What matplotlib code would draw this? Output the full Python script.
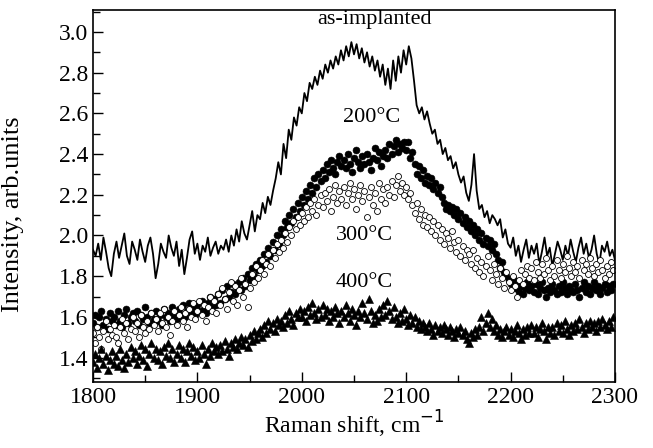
import numpy as np
import matplotlib.pyplot as plt
from matplotlib.ticker import MultipleLocator

plt.rcParams['font.family'] = ['Liberation Serif', 'DejaVu Serif']

# Raman shift grids
x_line = np.arange(1800, 2300.1, 2.5)
x_pts = np.arange(1800, 2299, 2)

# as-implanted (solid line)
as_impl = [1.93, 1.90, 1.96, 1.88, 1.99, 1.92, 1.84, 1.80, 1.91, 1.97,
           1.89, 1.95, 2.01, 1.90, 1.86, 1.97, 1.93, 1.88, 1.98, 1.92,
           1.87, 1.95, 1.99, 1.91, 1.79, 1.86, 1.96, 1.92, 1.89, 2.00,
           1.94, 1.90, 1.97, 1.85, 1.93, 1.81, 1.89, 1.98, 2.02, 1.91,
           1.96, 1.88, 1.95, 1.92, 1.99, 1.90, 1.94, 1.97, 1.91, 1.95,
           1.93, 1.98, 1.92, 2.00, 1.95, 2.03, 1.97, 2.07, 2.01, 1.98,
           2.05, 2.12, 2.02, 2.10, 2.08, 2.16, 2.11, 2.19, 2.15, 2.22,
           2.28, 2.36, 2.30, 2.45, 2.38, 2.52, 2.47, 2.58, 2.54, 2.63,
           2.60, 2.70, 2.66, 2.75, 2.72, 2.78, 2.74, 2.81, 2.77, 2.84,
           2.80, 2.86, 2.82, 2.88, 2.84, 2.91, 2.86, 2.93, 2.88, 2.95,
           2.89, 2.94, 2.87, 2.92, 2.85, 2.90, 2.83, 2.88, 2.81, 2.86,
           2.78, 2.84, 2.74, 2.82, 2.72, 2.86, 2.76, 2.88, 2.80, 2.91,
           2.84, 2.93, 2.87, 2.76, 2.64, 2.60, 2.63, 2.57, 2.61, 2.55,
           2.50, 2.52, 2.45, 2.47, 2.40, 2.43, 2.37, 2.39, 2.33, 2.36,
           2.30, 2.26, 2.29, 2.21, 2.17, 2.25, 2.40, 2.22, 2.13, 2.15,
           2.09, 2.12, 2.06, 2.10, 2.08, 2.05, 2.08, 1.99, 2.03, 1.96,
           1.94, 1.99, 1.90, 1.95, 1.87, 1.93, 1.98, 1.89, 1.95, 1.91,
           1.96, 1.86, 1.92, 1.99, 1.90, 1.94, 1.85, 1.91, 1.97, 1.93,
           1.88, 1.95, 1.90, 1.98, 1.92, 1.87, 1.94, 1.99, 1.91, 1.96,
           1.89, 1.93, 2.00, 1.91, 1.86, 1.95, 1.92, 1.97, 1.90, 1.93,
           1.88]

# 200 C (filled circles)
t200 = [1.57, 1.61, 1.55, 1.60, 1.63, 1.56, 1.59, 1.54, 1.62, 1.58,
        1.60, 1.56, 1.63, 1.58, 1.55, 1.61, 1.64, 1.57, 1.60, 1.62,
        1.58, 1.63, 1.56, 1.61, 1.59, 1.65, 1.60, 1.57, 1.62, 1.59,
        1.63, 1.58, 1.61, 1.56, 1.64, 1.60, 1.62, 1.58, 1.65, 1.61,
        1.59, 1.64, 1.61, 1.66, 1.60, 1.63, 1.67, 1.62, 1.65, 1.61,
        1.66, 1.63, 1.68, 1.64, 1.62, 1.67, 1.70, 1.65, 1.69, 1.66,
        1.71, 1.67, 1.73, 1.69, 1.75, 1.70, 1.72, 1.76, 1.71, 1.74,
        1.77, 1.73, 1.79, 1.75, 1.81, 1.78, 1.84, 1.80, 1.86, 1.83,
        1.88, 1.85, 1.91, 1.87, 1.94, 1.90, 1.97, 1.93, 2.00, 1.96,
        2.03, 2.00, 2.07, 2.04, 2.10, 2.06, 2.13, 2.09, 2.16, 2.12,
        2.19, 2.15, 2.22, 2.18, 2.25, 2.21, 2.28, 2.24, 2.30, 2.27,
        2.32, 2.28, 2.35, 2.31, 2.37, 2.33, 2.30, 2.36, 2.39, 2.34,
        2.37, 2.33, 2.40, 2.35, 2.31, 2.38, 2.42, 2.36, 2.33, 2.39,
        2.35, 2.40, 2.36, 2.32, 2.38, 2.43, 2.37, 2.41, 2.34, 2.39,
        2.42, 2.38, 2.45, 2.40, 2.44, 2.47, 2.41, 2.45, 2.43, 2.46,
        2.42, 2.46, 2.38, 2.41, 2.35, 2.30, 2.34, 2.28, 2.32, 2.26,
        2.29, 2.25, 2.28, 2.23, 2.26, 2.21, 2.24, 2.19, 2.16, 2.13,
        2.15, 2.12, 2.14, 2.10, 2.13, 2.08, 2.11, 2.06, 2.09, 2.04,
        2.07, 2.02, 2.05, 2.00, 2.03, 1.98, 2.01, 1.96, 1.99, 1.95,
        1.98, 1.93, 1.96, 1.91, 1.88, 1.84, 1.87, 1.82, 1.80, 1.78,
        1.76, 1.79, 1.74, 1.77, 1.72, 1.75, 1.71, 1.74, 1.77, 1.73,
        1.75, 1.72, 1.76, 1.71, 1.74, 1.77, 1.73, 1.70, 1.74, 1.72,
        1.76, 1.73, 1.71, 1.75, 1.72, 1.77, 1.74, 1.71, 1.75, 1.73,
        1.72, 1.76, 1.73, 1.70, 1.74, 1.77, 1.72, 1.75, 1.71, 1.74,
        1.77, 1.73, 1.75, 1.71, 1.74, 1.76, 1.72, 1.75, 1.73, 1.76]

# 300 C (open circles)
t300 = [1.52, 1.47, 1.55, 1.50, 1.44, 1.53, 1.58, 1.49, 1.54, 1.51,
        1.56, 1.50, 1.47, 1.55, 1.59, 1.52, 1.57, 1.49, 1.54, 1.60,
        1.53, 1.57, 1.50, 1.61, 1.55, 1.52, 1.58, 1.54, 1.62, 1.56,
        1.59, 1.53, 1.62, 1.57, 1.64, 1.55, 1.60, 1.51, 1.58, 1.63,
        1.56, 1.61, 1.65, 1.58, 1.62, 1.55, 1.64, 1.60, 1.67, 1.59,
        1.63, 1.68, 1.61, 1.66, 1.58, 1.65, 1.70, 1.63, 1.68, 1.62,
        1.71, 1.66, 1.74, 1.69, 1.64, 1.72, 1.77, 1.68, 1.75, 1.66,
        1.73, 1.79, 1.70, 1.76, 1.65, 1.74, 1.81, 1.77, 1.85, 1.79,
        1.83, 1.88, 1.81, 1.86, 1.91, 1.85, 1.93, 1.89, 1.96, 1.92,
        1.98, 1.94, 2.01, 1.97, 2.04, 2.00, 2.07, 2.03, 2.09, 2.05,
        2.11, 2.07, 2.14, 2.09, 2.16, 2.12, 2.18, 2.10, 2.15, 2.20,
        2.14, 2.21, 2.17, 2.23, 2.12, 2.19, 2.25, 2.16, 2.22, 2.18,
        2.24, 2.15, 2.21, 2.26, 2.18, 2.23, 2.13, 2.20, 2.25, 2.17,
        2.22, 2.09, 2.19, 2.24, 2.15, 2.21, 2.12, 2.26, 2.18, 2.23,
        2.16, 2.24, 2.20, 2.27, 2.19, 2.25, 2.29, 2.22, 2.26, 2.20,
        2.24, 2.18, 2.21, 2.15, 2.11, 2.16, 2.08, 2.13, 2.05, 2.10,
        2.04, 2.09, 2.02, 2.07, 2.00, 2.05, 1.98, 2.03, 1.96, 2.01,
        1.99, 1.94, 2.02, 1.97, 1.92, 1.98, 1.90, 1.95, 1.88, 1.93,
        1.91, 1.86, 1.93, 1.84, 1.89, 1.82, 1.87, 1.80, 1.85, 1.90,
        1.83, 1.78, 1.86, 1.81, 1.76, 1.84, 1.79, 1.74, 1.82, 1.77,
        1.73, 1.80, 1.75, 1.70, 1.78, 1.83, 1.76, 1.81, 1.85, 1.79,
        1.84, 1.78, 1.87, 1.82, 1.79, 1.86, 1.81, 1.89, 1.83, 1.78,
        1.85, 1.80, 1.88, 1.83, 1.79, 1.86, 1.82, 1.90, 1.84, 1.80,
        1.87, 1.82, 1.85, 1.79, 1.88, 1.83, 1.86, 1.81, 1.89, 1.84,
        1.80, 1.86, 1.82, 1.88, 1.83, 1.79, 1.85, 1.81, 1.87, 1.83]

# 400 C (filled triangles)
t400 = [1.38, 1.42, 1.35, 1.40, 1.44, 1.37, 1.41, 1.34, 1.39, 1.43,
        1.37, 1.41, 1.36, 1.44, 1.39, 1.35, 1.42, 1.38, 1.45, 1.40,
        1.43, 1.37, 1.41, 1.46, 1.39, 1.44, 1.36, 1.42, 1.47, 1.40,
        1.44, 1.39, 1.43, 1.37, 1.45, 1.41, 1.47, 1.40, 1.44, 1.38,
        1.42, 1.46, 1.40, 1.44, 1.38, 1.43, 1.47, 1.41, 1.45, 1.39,
        1.43, 1.40, 1.46, 1.42, 1.37, 1.44, 1.41, 1.47, 1.43, 1.45,
        1.42, 1.46, 1.43, 1.48, 1.44, 1.41, 1.47, 1.45, 1.49, 1.44,
        1.47, 1.50, 1.46, 1.49, 1.45, 1.51, 1.48, 1.53, 1.49, 1.52,
        1.54, 1.50, 1.56, 1.52, 1.58, 1.54, 1.57, 1.53, 1.59, 1.56,
        1.58, 1.55, 1.61, 1.57, 1.63, 1.59, 1.56, 1.62, 1.60, 1.64,
        1.60, 1.63, 1.58, 1.65, 1.61, 1.67, 1.62, 1.59, 1.64, 1.60,
        1.66, 1.61, 1.64, 1.58, 1.63, 1.60, 1.65, 1.62, 1.57, 1.63,
        1.60, 1.66, 1.62, 1.58, 1.64, 1.61, 1.56, 1.63, 1.60, 1.67,
        1.62, 1.59, 1.69, 1.63, 1.57, 1.61, 1.58, 1.64, 1.60, 1.66,
        1.61, 1.68, 1.63, 1.59, 1.65, 1.60, 1.57, 1.62, 1.58, 1.64,
        1.59, 1.56, 1.61, 1.57, 1.60, 1.55, 1.58, 1.54, 1.57, 1.55,
        1.53, 1.57, 1.54, 1.51, 1.56, 1.53, 1.55, 1.52, 1.56, 1.54,
        1.51, 1.55, 1.53, 1.50, 1.54, 1.52, 1.55, 1.51, 1.53, 1.49,
        1.47, 1.52, 1.50, 1.54, 1.51, 1.55, 1.60, 1.53, 1.57, 1.62,
        1.55, 1.59, 1.53, 1.56, 1.51, 1.54, 1.50, 1.53, 1.55, 1.51,
        1.54, 1.50, 1.53, 1.56, 1.52, 1.49, 1.54, 1.51, 1.55, 1.52,
        1.56, 1.52, 1.55, 1.50, 1.54, 1.57, 1.53, 1.49, 1.55, 1.52,
        1.55, 1.51, 1.57, 1.53, 1.56, 1.52, 1.58, 1.54, 1.51, 1.56,
        1.53, 1.57, 1.54, 1.59, 1.55, 1.52, 1.57, 1.54, 1.58, 1.55,
        1.57, 1.53, 1.58, 1.55, 1.59, 1.56, 1.54, 1.58, 1.55, 1.60]

fig = plt.figure(figsize=(6.53, 4.48), dpi=100)
ax = fig.add_axes([0.1424, 0.1473, 0.7994, 0.8304])

ax.plot(x_line, as_impl, color='black', lw=1.3)
ax.plot(x_pts, t200, 'o', color='black', ms=5.0, mew=0.4)
ax.plot(x_pts, t300, 'o', mfc='white', mec='black', ms=4.3, mew=0.6)
ax.plot(x_pts, t400, '^', color='black', ms=5.2, mew=0.4)

ax.text(2070, 3.06, 'as-implanted', fontsize=16, ha='center', va='center')
ax.text(2067, 2.58, '200°C', fontsize=16, ha='center', va='center')
ax.text(2060, 2.00, '300°C', fontsize=16, ha='center', va='center')
ax.text(2060, 1.77, '400°C', fontsize=16, ha='center', va='center')

ax.set_xlim(1800, 2300)
ax.set_ylim(1.28, 3.108)
ax.xaxis.set_major_locator(MultipleLocator(100))
ax.xaxis.set_minor_locator(MultipleLocator(50))
ax.yaxis.set_major_locator(MultipleLocator(0.2))
ax.yaxis.set_minor_locator(MultipleLocator(0.1))
ax.yaxis.set_major_formatter(plt.FormatStrFormatter('%.1f'))
ax.tick_params(which='both', direction='in', labelsize=17, width=1.0)
ax.tick_params(which='major', length=7)
ax.tick_params(which='minor', length=5)
for s in ax.spines.values():
    s.set_linewidth(1.2)

ax.set_xlabel('Raman shift, cm$^{-1}$', fontsize=17, labelpad=1)
ax.set_ylabel('Intensity, arb.units', fontsize=19)
ax.yaxis.set_label_coords(-0.132, 0.452)

fig.savefig('out.png', dpi=100)
